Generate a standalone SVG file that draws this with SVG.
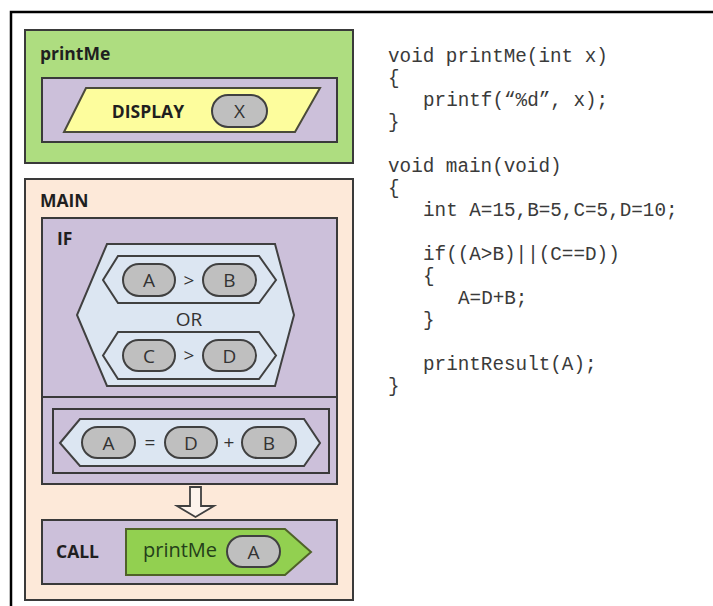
<svg xmlns="http://www.w3.org/2000/svg" width="713" height="606" viewBox="0 0 713 606">
<style>
.box{stroke:#3a3a3a;stroke-width:2}
.green{fill:#aedd80}
.purple{fill:#ccc0da}
.peach{fill:#fde9d9}
.hex{fill:#dce6f2;stroke:#404040;stroke-width:2}
.pill{fill:#bfbfbf;stroke:#404040;stroke-width:2}
.title{font-family:"Open Sans","Liberation Sans",sans-serif;font-weight:700;font-size:17.5px;fill:#1f1f1f}
.lt{font-family:"Open Sans","Liberation Sans",sans-serif;font-size:19px;fill:#333;text-anchor:middle}
.op{font-family:"Open Sans","Liberation Sans",sans-serif;font-size:19px;fill:#333;text-anchor:middle}
.code{font-family:"Liberation Mono","Courier New",monospace;font-size:19.3px;fill:#3a3a3a}
</style>
<rect x="0" y="0" width="713" height="606" fill="#ffffff"/>
<rect x="11" y="12" width="740" height="640" fill="none" stroke="#000" stroke-width="2.5"/>

<g id="printMe">
<rect class="box green" x="25" y="30" width="328" height="133"/>
<text class="title" x="40" y="60" fill="#1f3314">printMe</text>
<rect class="box purple" x="42" y="78" width="295" height="64"/>
<polygon points="86,88 320,88 295,132 64,132" fill="#fdfd9d" stroke="#4a4a3a" stroke-width="2"/>
<text class="title" x="148" y="118" text-anchor="middle">DISPLAY</text>
<rect class="pill" x="212" y="95" width="55" height="32" rx="16"/>
<text class="lt" x="239.5" y="118">X</text>
</g>

<g id="main">
<rect class="box peach" x="25" y="179" width="328" height="421"/>
<text class="title" x="40" y="207">MAIN</text>
</g>

<g id="if">
<rect class="box purple" x="42" y="218" width="295" height="266"/>
<line class="box" x1="42" y1="397" x2="337" y2="397"/>
<text class="title" x="57" y="245">IF</text>
<polygon class="hex" points="107,244 275,244 294,315 275,386 107,386 77,315"/>
<polygon class="hex" points="118,256 259,256 276,280 259,303 118,303 103,280"/>
<rect class="pill" x="123" y="264" width="52" height="32" rx="16"/>
<text class="lt" x="149" y="287">A</text>
<text class="op" x="189" y="286.5">&gt;</text>
<rect class="pill" x="203" y="264" width="53" height="32" rx="16"/>
<text class="lt" x="229.5" y="287">B</text>
<text class="lt" x="189" y="326">OR</text>
<polygon class="hex" points="118,332 259,332 276,355.5 259,379 118,379 103,355.5"/>
<rect class="pill" x="123" y="340" width="52" height="31" rx="15.5"/>
<text class="lt" x="149" y="362.5">C</text>
<text class="op" x="189" y="362">&gt;</text>
<rect class="pill" x="203" y="340" width="53" height="31" rx="15.5"/>
<text class="lt" x="229.5" y="362.5">D</text>
</g>

<g id="assign">
<rect class="box purple" x="53" y="409" width="276" height="64"/>
<polygon class="hex" points="60,443 80,419 304,419 320,443 304,466 80,466"/>
<rect class="pill" x="82" y="427" width="53" height="31" rx="15.5"/>
<text class="lt" x="108.5" y="449.5">A</text>
<text class="op" x="150" y="449">=</text>
<rect class="pill" x="165" y="427" width="52" height="31" rx="15.5"/>
<text class="lt" x="191" y="449.5">D</text>
<text class="op" x="229" y="449">+</text>
<rect class="pill" x="242" y="427" width="54" height="31" rx="15.5"/>
<text class="lt" x="269" y="449.5">B</text>
</g>

<g id="connectors">
<polygon points="190,487 201,487 201,506 214,506 195.5,517 177,506 190,506" fill="#fdf3ec" stroke="#404040" stroke-width="1.8"/>
</g>

<g id="call">
<rect class="box purple" x="42" y="520" width="295" height="64"/>
<text class="title" x="56" y="558" fill="#1c1c38">CALL</text>
<polygon points="126,529 285,529 311,552 285,575 126,575" fill="#92d050" stroke="#4f6228" stroke-width="2"/>
<text x="143" y="557" font-family="Open Sans, Liberation Sans, sans-serif" font-size="20px" fill="#24401a">printMe</text>
<rect class="pill" x="227" y="536" width="53" height="31" rx="15.5"/>
<text class="lt" x="253.5" y="558.5">A</text>
</g>

<g id="code">
<text class="code" x="388" y="62">void printMe(int x)</text>
<text class="code" x="388" y="84">{</text>
<text class="code" x="423" y="106">printf(“%d”, x);</text>
<text class="code" x="388" y="128">}</text>
<text class="code" x="388" y="172">void main(void)</text>
<text class="code" x="388" y="194">{</text>
<text class="code" x="423" y="216">int A=15,B=5,C=5,D=10;</text>
<text class="code" x="423" y="260">if((A&gt;B)||(C==D))</text>
<text class="code" x="423" y="282">{</text>
<text class="code" x="458" y="304">A=D+B;</text>
<text class="code" x="423" y="326">}</text>
<text class="code" x="423" y="370">printResult(A);</text>
<text class="code" x="388" y="392">}</text>
</g>
</svg>
